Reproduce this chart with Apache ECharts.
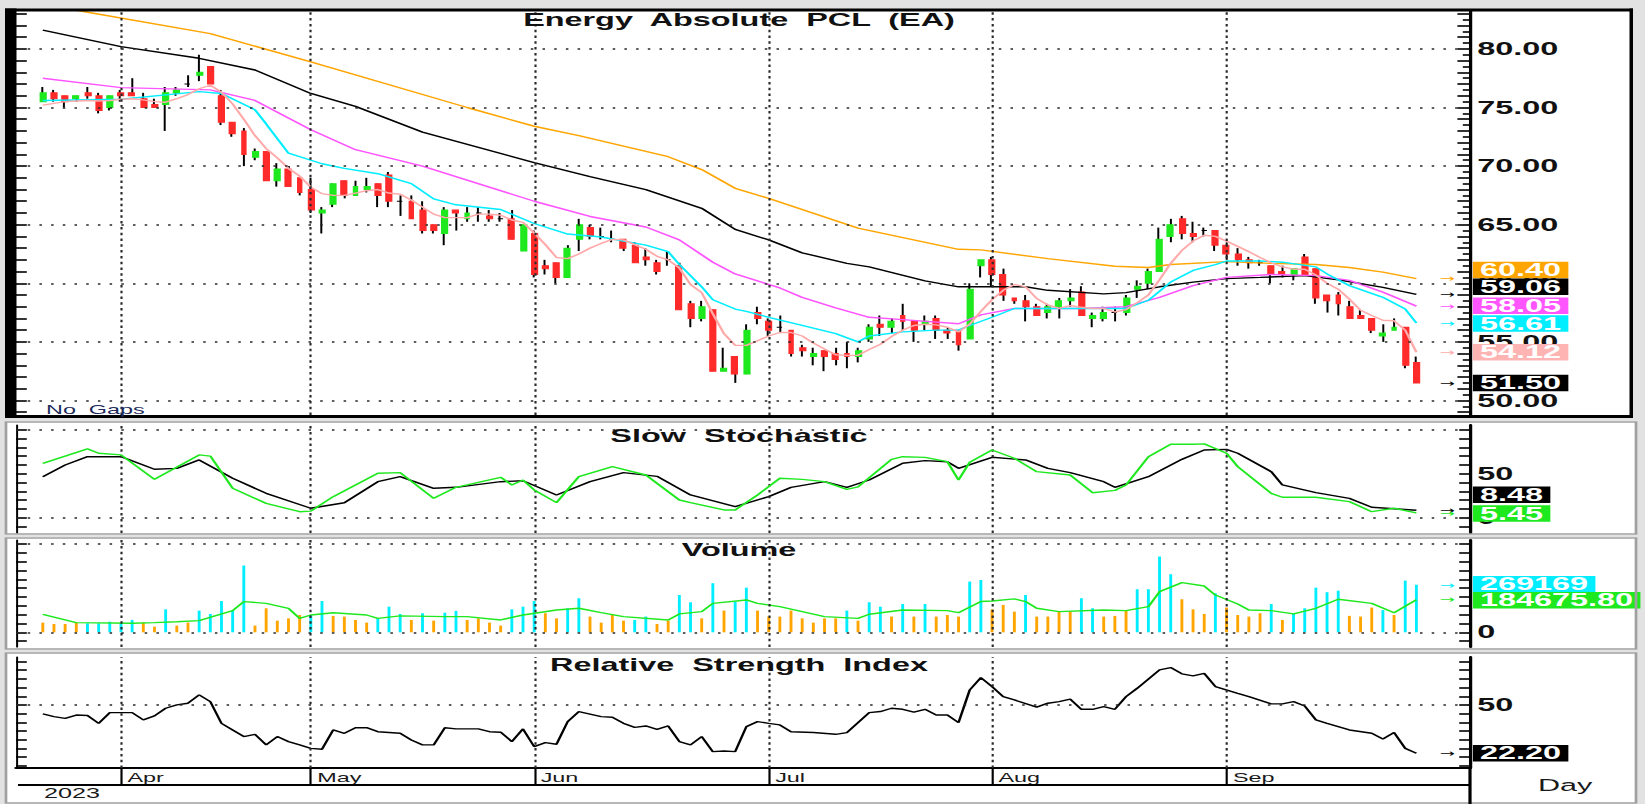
<!DOCTYPE html>
<html>
<head>
<meta charset="utf-8">
<title>Energy Absolute PCL (EA)</title>
<script src="https://cdn.jsdelivr.net/npm/echarts@6/dist/echarts.min.js"></script>
<style>
html, body { margin: 0; padding: 0; overflow: hidden; background: #fff; }
/* the source chart is a screenshot stretched sideways, so draw narrow and stretch */
#chart { width: 914px; height: 804px; transform: scaleX(1.8); transform-origin: 0 0; }
</style>
</head>
<body>
<div id="chart"></div>
<script>
var S = 1.8;
function fx(v) { return v / S; }

var monthStarts = [7, 24, 44, 65, 85, 106];
var monthNames = ['Apr', 'May', 'Jun', 'Jul', 'Aug', 'Sep'];

var opens = [
  75.5, 76.25, 76.0, 75.75, 76.25, 76.0, 75.0, 76.25, 76.25, 75.75,
  75.25, 75.25, 76.25, 77.0, 77.75, 78.5, 76.0, 73.75, 73.0, 70.75,
  71.25, 68.75, 69.75, 69.0, 68.0, 66.0, 66.75, 68.75, 67.5, 68.0,
  68.5, 69.25, 67.0, 67.0, 66.25, 65.0, 64.25, 66.25, 65.5, 66.0,
  65.75, 65.5, 65.5, 62.75, 64.25, 61.5, 61.75, 60.5, 63.75, 64.75,
  64.0, 63.75, 63.75, 63.25, 62.25, 61.75, 62.0, 61.5, 58.25, 57.0,
  57.75, 52.5, 53.75, 52.25, 57.5, 56.75, 56.25, 56.0, 54.5, 53.75,
  54.25, 54.0, 54.0, 53.75, 55.25, 56.5, 56.25, 57.25, 56.75, 56.5,
  57.0, 56.0, 56.0, 55.25, 61.5, 62.0, 60.75, 58.75, 58.5, 58.0,
  57.5, 58.0, 58.5, 59.25, 57.0, 57.0, 57.5, 57.5, 59.5, 60.0,
  61.0, 64.0, 65.5, 64.25, 64.5, 64.5, 63.25, 62.5, 62.0, 61.75,
  61.5, 61.0, 60.75, 62.25, 61.25, 59.0, 59.0, 58.0, 57.25, 57.0,
  55.5, 56.0, 56.25, 53.25
];
var closes = [
  76.25, 75.75, 75.5, 76.0, 76.0, 74.75, 76.0, 76.0, 76.0, 75.0,
  75.0, 76.25, 76.5, 77.0, 78.0, 77.0, 73.75, 72.75, 71.0, 71.25,
  68.75, 69.75, 68.25, 67.75, 66.25, 66.25, 68.5, 67.5, 68.25, 68.25,
  67.5, 67.0, 67.0, 65.5, 64.5, 64.5, 66.25, 66.0, 66.0, 66.0,
  65.5, 65.5, 63.75, 65.0, 60.75, 61.25, 60.5, 63.0, 65.0, 64.0,
  64.0, 63.75, 63.0, 61.75, 62.0, 61.0, 62.0, 57.75, 57.0, 58.0,
  52.5, 52.75, 52.25, 56.0, 57.0, 56.0, 56.25, 54.0, 54.25, 54.0,
  53.75, 53.5, 53.75, 54.25, 56.25, 56.25, 56.75, 56.75, 56.0, 56.75,
  56.0, 55.75, 54.75, 59.5, 62.0, 60.75, 59.0, 58.5, 58.0, 57.25,
  58.0, 58.5, 58.75, 57.25, 57.25, 57.5, 57.5, 58.75, 59.75, 61.0,
  63.75, 65.0, 64.25, 64.0, 64.5, 63.25, 62.5, 62.0, 61.75, 61.75,
  60.75, 60.75, 61.25, 60.75, 58.75, 58.5, 58.25, 57.0, 57.0, 56.0,
  55.75, 56.25, 53.0, 51.5
];
var highs = [
  76.75, 76.5, 76.0, 76.0, 76.75, 76.25, 76.0, 76.5, 77.5, 76.25,
  75.75, 76.75, 76.75, 77.75, 79.5, 78.5, 76.5, 73.75, 73.25, 71.5,
  71.25, 70.25, 70.0, 69.0, 69.0, 66.5, 68.5, 68.75, 68.75, 69.0,
  68.5, 69.5, 67.5, 67.5, 67.0, 65.0, 66.5, 66.25, 66.5, 66.5,
  66.25, 66.0, 66.25, 65.0, 64.5, 62.0, 61.75, 63.25, 65.5, 65.0,
  64.75, 64.5, 63.75, 63.5, 63.0, 62.0, 62.75, 61.75, 58.5, 58.5,
  57.75, 54.5, 53.75, 56.5, 58.0, 57.0, 57.25, 56.0, 54.75, 54.5,
  54.25, 54.5, 55.0, 54.5, 56.5, 57.25, 57.0, 58.25, 56.75, 57.25,
  57.25, 56.25, 56.0, 60.0, 62.0, 62.25, 61.25, 58.75, 59.0, 58.25,
  58.25, 58.75, 59.5, 59.75, 57.5, 58.0, 58.0, 59.0, 60.25, 61.25,
  64.75, 65.5, 65.75, 65.25, 64.75, 64.5, 63.5, 63.0, 62.25, 62.0,
  61.5, 61.5, 61.25, 62.5, 61.25, 59.0, 59.25, 58.5, 57.75, 57.0,
  56.5, 57.0, 56.25, 53.75
];
var lows = [
  75.5, 75.5, 75.0, 75.5, 75.75, 74.5, 74.75, 75.5, 76.0, 75.0,
  75.0, 73.0, 76.0, 76.75, 77.25, 77.0, 73.5, 72.5, 70.0, 70.5,
  68.75, 68.25, 68.25, 67.5, 66.0, 64.25, 66.5, 67.25, 67.5, 67.75,
  66.5, 66.5, 65.75, 65.5, 64.25, 64.25, 63.25, 64.5, 65.25, 65.25,
  65.25, 65.25, 63.75, 62.75, 60.5, 60.75, 60.0, 60.5, 62.75, 63.75,
  63.75, 63.5, 62.75, 61.75, 61.5, 60.75, 61.5, 57.75, 56.25, 56.75,
  52.5, 52.5, 51.5, 52.25, 56.5, 55.5, 55.75, 53.75, 53.75, 53.0,
  52.5, 53.0, 52.75, 53.25, 55.0, 55.5, 55.75, 56.0, 55.0, 56.0,
  55.25, 55.25, 54.25, 55.25, 60.5, 59.75, 58.5, 58.25, 56.75, 57.25,
  57.0, 57.0, 58.0, 57.25, 56.25, 56.75, 56.75, 57.25, 58.75, 59.5,
  61.0, 63.5, 63.75, 63.5, 64.0, 62.75, 62.0, 61.5, 61.25, 61.5,
  60.0, 60.5, 60.25, 60.75, 58.25, 57.5, 57.25, 57.0, 57.0, 55.75,
  55.0, 56.0, 52.75, 51.5
];

// moving averages, as [bar, value]
var maOrange = [[0,84.0],[3,83.3],[15,81.3],[24,78.9],[38,75.0],[44,73.4],[48,72.6],[56,70.8],[59,69.7],[62,68.1],[65,67.25],[73,64.7],[82,62.9],[84,62.85],[90,62.1],[96,61.45],[99,61.35],[101,61.6],[106,61.85],[110,61.7],[114,61.6],[117,61.35],[120,60.95],[123,60.40]];
var maBlack = [[0,81.6],[7,80.2],[14,79.2],[19,78.2],[24,76.2],[28,75.1],[34,72.9],[44,70.3],[49,69.1],[54,68.0],[59,66.4],[62,64.6],[65,63.7],[68,62.6],[72,61.7],[74,61.4],[79,60.2],[82,59.7],[88,59.7],[90,59.4],[95,59.1],[97,59.2],[100,59.7],[103,60.1],[106,60.4],[109,60.5],[113,60.65],[116,60.3],[120,59.65],[123,59.06]];
var maMagenta = [[0,77.5],[7,76.7],[15,76.5],[19,75.6],[24,73.1],[28,71.4],[34,70.0],[44,67.0],[49,65.7],[54,64.8],[57,63.7],[60,61.8],[62,60.8],[64,60.2],[66,59.6],[68,58.8],[71,57.9],[74,57.1],[77,56.9],[82,56.55],[84,57.3],[87,57.85],[93,57.85],[97,58.0],[100,58.8],[103,59.8],[106,60.5],[110,60.75],[114,60.65],[117,60.25],[120,59.25],[123,58.05]];
var maCyan = [[0,75.6],[7,75.7],[14,76.35],[16,76.2],[19,74.8],[20,73.6],[22,71.1],[25,70.2],[27,69.8],[30,69.35],[33,68.5],[35,67.2],[37,66.7],[41,66.3],[44,65.1],[47,64.2],[50,63.95],[54,63.25],[56,62.7],[57,61.6],[59,59.7],[60,58.6],[62,57.8],[63,57.6],[65,57.1],[68,56.4],[71,55.7],[73,55.0],[74,55.5],[77,55.85],[80,56.0],[82,56.0],[83,56.4],[85,57.1],[87,57.85],[97,57.85],[99,58.55],[101,60.1],[103,61.1],[105,61.6],[106,61.9],[109,61.9],[111,61.8],[114,61.4],[115,60.8],[117,59.8],[120,58.8],[122,57.8],[123,56.61]];
var maPink = [
  75.2, 75.35, 75.5, 75.55, 75.6, 75.55, 75.6, 75.7, 75.75, 75.65,
  75.5, 75.45, 75.75, 76.1, 76.6, 76.9, 76.3, 75.3, 74.0, 72.6,
  71.5, 70.7, 69.8, 69.15, 68.2, 67.65, 67.5, 67.5, 67.7, 67.9,
  68.0, 67.7, 67.6, 67.1, 66.5, 65.9, 65.6, 65.6, 65.6, 65.9,
  65.9, 65.8, 65.4, 65.2, 64.3, 63.3, 62.2, 62.1, 62.5, 63.0,
  63.4, 63.75, 63.7, 63.3, 62.9, 62.3, 62.0, 61.3, 59.9, 59.2,
  57.4, 55.7, 54.7, 54.7, 55.1, 55.5, 55.8, 55.8, 55.5, 54.9,
  54.4, 53.9, 53.85, 53.85, 54.35, 54.8, 55.45, 56.0, 56.4, 56.5,
  56.45, 56.25, 55.85, 56.5, 57.6, 58.6, 59.4, 59.9, 59.7, 58.7,
  58.15, 57.85, 58.1, 57.95, 57.85, 57.85, 57.55, 57.75, 58.35, 59.0,
  60.3, 61.7, 62.8, 63.6, 64.1, 64.0, 63.6, 63.15, 62.7, 62.2,
  61.75, 61.4, 61.2, 61.2, 60.7, 60.0, 59.5, 58.65, 57.7, 57.25,
  56.85, 56.8, 56.0, 54.12
];

var stochK = [[0,61.8],[4,78.1],[5,73.2],[7,71.3],[10,43.6],[14,71.3],[15,70],[17,33.4],[20,16.3],[23,6.8],[24,7.5],[26,23.9],[30,50.4],[32,51.2],[35,22.0],[37,34.5],[41,45.9],[42,37.2],[43,42.8],[44,31.5],[46,17.1],[48,46.6],[51,58.0],[54,48.5],[57,20.1],[58,17],[61,8.8],[62,8.8],[64,25.8],[66,44.8],[68,43.5],[70,40.9],[72,32.2],[73,35],[76,66.3],[77,69.3],[79,68.5],[81,63.6],[82,42.8],[83,63],[85,76.9],[87,67.5],[89,52.3],[92,48.5],[94,28.4],[96,31],[97,37.2],[99,69.3],[101,83.4],[103,83.4],[104,83.8],[106,73.2],[107,58],[110,27.6],[111,23.2],[114,23.2],[117,18.2],[119,6.8],[121,10.7],[123,5.45]];
var stochD = [[0,46.6],[2,59.9],[4,69.3],[7,69.3],[10,55],[12,56],[14,65.6],[17,44.8],[20,27.7],[24,10.7],[27,17],[30,40.9],[32,46.6],[35,33.4],[37,34.5],[41,40.9],[43,42],[46,25.8],[49,40.9],[52,51.2],[55,47],[58,25.8],[62,12.5],[65,23.9],[67,34.5],[70,40.9],[72,34.5],[74,42.8],[77,61.8],[79,64.8],[81,63.6],[82,56.1],[85,68.6],[88,65.6],[90,56.1],[92,51.2],[95,40.9],[96,34.5],[99,46.6],[102,66.3],[104,76.9],[106,77.6],[107,73.2],[110,52.3],[111,37.2],[114,28.4],[117,22],[119,11.8],[123,8.48]];

var volumes = [
  54800, 47000, 47000, 55000, 51000, 51000, 60000, 51000, 70000, 55000,
  32000, 130000, 38000, 55000, 123000, 104000, 177000, 123000, 378000, 38000,
  136000, 66000, 79000, 98000, 98000, 177000, 93000, 89000, 70000, 55000,
  79000, 145000, 104000, 70000, 108000, 66000, 111000, 121000, 70000, 79000,
  55000, 38000, 130000, 145000, 177000, 108000, 79000, 136000, 193000, 89000,
  55000, 98000, 66000, 70000, 89000, 47000, 66000, 211000, 170000, 79000,
  278000, 123000, 174000, 253000, 123000, 89000, 89000, 123000, 79000, 55000,
  79000, 79000, 123000, 66000, 170000, 145000, 89000, 160000, 89000, 160000,
  89000, 98000, 89000, 287000, 296000, 130000, 155000, 117000, 211000, 89000,
  89000, 117000, 117000, 193000, 136000, 89000, 93000, 123000, 244000, 244000,
  429000, 329000, 187000, 130000, 104000, 221000, 140000, 98000, 89000, 108000,
  160000, 70000, 108000, 136000, 253000, 227000, 236000, 93000, 89000, 140000,
  126000, 98000, 293000, 269169
];
// c = cyan bar, o = orange bar, ten bars per chunk
var volTone = [
  'ooooccccco', 'ocooccccco', 'ooooccoooo', 'cccococcoo',
  'oocccoocco', 'oooccoocco', 'coccoooooo', 'oococcococ',
  'oooccoooco', 'oooccooocc', 'ccooocoooo', 'cocccccooo',
  'cocc'
].join('').split('');
var volMA = [[0,102000],[3,55000],[8,51000],[10,55000],[12,60000],[14,66000],[17,123000],[18,174000],[20,164000],[22,136000],[23,79000],[24,98000],[26,111000],[29,98000],[30,79000],[32,93000],[36,89000],[38,89000],[41,70000],[43,98000],[46,126000],[48,136000],[50,111000],[52,89000],[56,70000],[57,104000],[59,117000],[60,164000],[63,183000],[64,164000],[66,145000],[68,117000],[70,89000],[73,79000],[74,102000],[77,126000],[81,123000],[82,111000],[84,174000],[85,177000],[87,189000],[88,174000],[89,136000],[91,117000],[95,126000],[97,123000],[99,145000],[100,230000],[102,281000],[104,262000],[105,211000],[107,160000],[108,126000],[110,123000],[112,104000],[114,136000],[116,187000],[119,164000],[121,111000],[123,184675.8]];

var rsi = [[0,44.8],[1,43.3],[2,42.3],[3,44.2],[4,43.9],[5,39.4],[6,45.6],[8,45.6],[9,41.4],[10,43.7],[11,48.1],[12,50],[13,51],[14,55.8],[15,51.9],[16,39.4],[17,35.6],[18,31.8],[19,33.1],[20,27],[21,31.8],[22,28.9],[23,27],[24,25],[25,24.5],[26,35.6],[27,33.7],[28,36.9],[29,36.9],[30,34.6],[32,33.7],[33,29.8],[34,27],[35,27],[36,36.9],[37,36.2],[39,36.2],[40,34.6],[41,34.3],[42,28.9],[43,36.2],[44,26],[45,28.3],[46,27.4],[47,40.4],[48,46.2],[50,43.3],[51,42.9],[52,39.4],[53,37.1],[54,37.9],[55,36],[56,37.9],[57,28.9],[58,27],[59,31.8],[60,23.1],[61,23.5],[62,23.1],[63,37.5],[64,40.4],[65,39.4],[66,38.5],[67,34.6],[69,34.1],[71,33.1],[72,34.1],[74,45.6],[75,46.2],[76,48.1],[77,47.5],[78,45.8],[79,47.5],[80,44.2],[81,44.2],[82,39.8],[83,58.6],[84,65.7],[85,60.6],[86,54.8],[87,52.9],[89,48.7],[90,51],[91,51.9],[92,53.3],[93,47.5],[94,47.5],[95,49],[96,47.5],[97,54.8],[98,59.6],[100,70.2],[101,71.5],[102,67.9],[103,66.7],[104,68.2],[105,60.6],[107,56.7],[108,54.8],[110,50.6],[111,50.6],[112,51.9],[113,49.4],[114,41.4],[115,39.4],[117,35.6],[119,33.7],[120,30.4],[121,34.1],[122,25],[123,22.2]];

var FONT = 'Liberation Sans, Arial, sans-serif';
var GREEN = '#1ee81e', RED = '#ff2a2a', ORANGE = '#ffa500', CYAN = '#00eeff', MAGENTA = '#ff55ff', PINK = '#ffaaaa';
var last = opens.length - 1;

function range(a, b, step) {
  var r = [];
  for (var v = a; v <= b + 1e-9; v += step) r.push(+v.toFixed(4));
  return r;
}

// plot area in canvas px; the right axis sits at 1470 px of the stretched page
var axisX = fx(1470), plotL = fx(16), W = 914;
var xMin = -2.4, xMax = 127.8;
var barPx = fx(11.17);                 // canvas px per bar
var arrowAt = last + 13 / barPx;       // arrows sit a little right of the last bar
var tagAt = xMax - 0.1;                // tags hang off the right edge of the plot
var tagShift = 0.1 * barPx + 1.6;

var grids = [
  { left: plotL, right: W - axisX, top: 10, height: 405 },
  { left: plotL, right: W - axisX, top: 425, height: 108 },
  { left: plotL, right: W - axisX, top: 540, height: 107 },
  { left: plotL, right: W - axisX, top: 657, height: 111 }
];
grids.forEach(function (g) { g.outerBoundsMode = 'none'; });

function yBase(gi, pos, min, max) {
  return {
    type: 'value', gridIndex: gi, position: pos, min: min, max: max,
    splitLine: { show: false },
    axisLine: { show: true, onZero: false, lineStyle: { color: '#000', width: 1.8 } },
    axisTick: { show: false },
    axisLabel: { show: false }
  };
}
function ticks(vals, len, width) {
  return { show: true, inside: true, length: len, customValues: vals, lineStyle: { color: '#000', width: width || 1.6 } };
}
function labels(vals, fmt) {
  return { show: true, customValues: vals, formatter: fmt, margin: 4, color: '#111', fontFamily: FONT, fontWeight: 'bold', fontSize: 18 };
}

var priceR = [48.76, 83.32], stochR = [-17.4, 105.3], volR = [-83200, 522600], rsiR = [13.7, 77.6];
var yAxes = [];
var a;
// price panel: 0 right, 1 half ticks, 2 left
a = yBase(0, 'right', priceR[0], priceR[1]);
a.axisTick = ticks(range(49, 83, 1), 7); a.axisLabel = labels(range(50, 80, 5), function (v) { return v.toFixed(2); });
yAxes.push(a);
a = yBase(0, 'right', priceR[0], priceR[1]); a.axisLine.show = false; a.axisTick = ticks(range(49.5, 82.5, 1), 4);
yAxes.push(a);
a = yBase(0, 'left', priceR[0], priceR[1]); a.axisLine.show = false; a.axisTick = ticks(range(49, 83, 1), 6);
yAxes.push(a);
// stochastic: 3 right, 4 left
a = yBase(1, 'right', stochR[0], stochR[1]);
a.axisTick = ticks(range(-10, 100, 10), 6); a.axisLabel = labels([0, 50], function (v) { return String(v); });
yAxes.push(a);
a = yBase(1, 'left', stochR[0], stochR[1]); a.axisLine.lineStyle.width = 1.1; a.axisTick = ticks(range(-10, 100, 10), 6);
yAxes.push(a);
// volume: 5 right, 6 left
a = yBase(2, 'right', volR[0], volR[1]);
a.axisTick = ticks(range(-50000, 500000, 50000), 6); a.axisLabel = labels([0], function () { return '0'; });
yAxes.push(a);
a = yBase(2, 'left', volR[0], volR[1]); a.axisLine.lineStyle.width = 1.1; a.axisTick = ticks(range(-50000, 500000, 50000), 6);
yAxes.push(a);
// rsi: 7 right, 8 left
a = yBase(3, 'right', rsiR[0], rsiR[1]);
a.axisTick = ticks(range(15, 75, 5), 6); a.axisLabel = labels([50], function (v) { return String(v); });
yAxes.push(a);
a = yBase(3, 'left', rsiR[0], rsiR[1]); a.axisLine.lineStyle.width = 1.1; a.axisTick = ticks(range(15, 75, 5), 6);
yAxes.push(a);

var xAxes = [0, 1, 2].map(function (gi) {
  return { type: 'value', gridIndex: gi, min: xMin, max: xMax, show: false };
});
xAxes.push({
  type: 'value', gridIndex: 3, min: xMin, max: xMax, position: 'bottom',
  splitLine: { show: false },
  axisLine: { show: true, onZero: false, lineStyle: { color: '#000', width: 2 } },
  axisTick: { show: true, inside: false, length: 17, customValues: monthStarts, lineStyle: { color: '#000', width: 1.2 } },
  axisLabel: {
    show: true, customValues: monthStarts, margin: 3, align: 'left', padding: [0, 0, 0, 3.6],
    formatter: function (v) { return monthNames[monthStarts.indexOf(v)]; },
    fontFamily: FONT, fontSize: 13, color: '#1a1a1a'
  }
});

function guides(gi, yi, hVals) {
  var d = hVals.map(function (v) { return { yAxis: v }; });
  monthStarts.forEach(function (m) { d.push({ xAxis: m, lineStyle: { type: [2.5, 3.3], width: 1.2 } }); });
  return {
    type: 'line', xAxisIndex: gi, yAxisIndex: yi, data: [], silent: true, z: 1,
    markLine: {
      silent: true, symbol: ['none', 'none'], animation: false, label: { show: false },
      lineStyle: { color: '#2a2a2a', width: 1.6, type: [1.4, 5.1] },
      emphasis: { disabled: true }, data: d
    }
  };
}

// arrow + value tag at the right end of a series
function tag(v, text, bg, fg, arrow, dy) {
  return {
    symbol: 'circle', symbolSize: 0, silent: true, animation: false,
    data: [
      { coord: [arrowAt, v], label: { show: true, position: 'right', distance: 0, formatter: '\u2192', color: arrow, fontFamily: 'DejaVu Sans', fontSize: 10, lineHeight: 10 } },
      { coord: [tagAt, v], label: { show: true, position: 'right', distance: 0, offset: [tagShift, dy || 0], formatter: text, color: fg, backgroundColor: bg, padding: [0, 4], lineHeight: 16.5, fontFamily: FONT, fontWeight: 'bold', fontSize: 18 } }
    ]
  };
}

function line(gi, yi, data, color, z, mark) {
  return { type: 'line', xAxisIndex: gi, yAxisIndex: yi, data: data, showSymbol: false, symbol: 'none', silent: true, z: z || 4,
    lineStyle: { color: color, width: 1.4 }, markPoint: mark };
}

var wickData = opens.map(function (o, k) { return [k, o, closes[k], lows[k], highs[k]]; });
var bodyData = opens.map(function (o, k) { return [k, o, closes[k], Math.min(o, closes[k]), Math.max(o, closes[k])]; });
var pinkData = maPink.map(function (v, k) { return [k, v]; });
var volData = volumes.map(function (v, k) {
  return { value: [k, v], itemStyle: { color: volTone[k] === 'c' ? CYAN : ORANGE } };
});

var series = [
  guides(0, 0, range(50, 80, 5)),
  { type: 'candlestick', name: 'wick', xAxisIndex: 0, yAxisIndex: 0, data: wickData, encode: { x: 0, y: [1, 2, 3, 4] },
    barWidth: 0.6, z: 2, silent: true,
    itemStyle: { color: '#000', color0: '#000', borderColor: '#000', borderColor0: '#000', borderColorDoji: '#000', borderWidth: 1.1 } },
  { type: 'candlestick', name: 'body', xAxisIndex: 0, yAxisIndex: 0, data: bodyData, encode: { x: 0, y: [1, 2, 3, 4] },
    barWidth: 3.4, z: 3, silent: true,
    itemStyle: { color: GREEN, color0: RED, borderColor: GREEN, borderColor0: RED, borderColorDoji: '#000', borderWidth: 1 },
    markPoint: tag(closes[last], closes[last].toFixed(2), '#000', '#fff', '#000', 0) },
  line(0, 0, maOrange, ORANGE, 4, tag(maOrange[maOrange.length - 1][1], '60.40', ORANGE, '#fff', ORANGE, -8.5)),
  line(0, 0, maBlack, '#000', 4, tag(maBlack[maBlack.length - 1][1], '59.06', '#000', '#fff', '#000', -7.5)),
  line(0, 0, maMagenta, MAGENTA, 4, tag(maMagenta[maMagenta.length - 1][1], '58.05', MAGENTA, '#fff', MAGENTA, -0.5)),
  line(0, 0, maCyan, CYAN, 4, tag(maCyan[maCyan.length - 1][1], '56.61', CYAN, '#fff', CYAN, 0.5)),
  line(0, 0, pinkData, PINK, 4, tag(maPink[last], '54.12', '#ffb4b4', '#fff', PINK, 0)),

  guides(1, 3, [0, 100]),
  line(1, 3, stochD, '#000', 4, tag(8.48, '8.48', '#000', '#fff', '#000', -15.5)),
  line(1, 3, stochK, GREEN, 5, tag(5.45, '5.45', GREEN, '#fff', GREEN, 0.5)),

  guides(2, 5, [0, 500000]),
  { type: 'bar', xAxisIndex: 2, yAxisIndex: 5, data: volData, barWidth: 1.6, silent: true, z: 3,
    markPoint: tag(volumes[last], String(volumes[last]), CYAN, '#fff', CYAN, -0.5) },
  line(2, 5, volMA, GREEN, 4, tag(184675.8, '184675.80', GREEN, '#fff', GREEN, 0.5)),

  guides(3, 7, [50]),
  line(3, 7, rsi, '#000', 4, tag(22.2, '22.20', '#000', '#fff', '#000', 0))
];

function rect(x1, y1, x2, y2, fill, z) {
  return { type: 'rect', silent: true, z: z, shape: { x: fx(x1), y: y1, width: fx(x2 - x1), height: y2 - y1 }, style: { fill: fill } };
}
function frame(x1, y1, x2, y2, stroke, lw) {
  return { type: 'rect', silent: true, z: 10, shape: { x: fx(x1), y: y1, width: fx(x2 - x1), height: y2 - y1 }, style: { fill: 'none', stroke: stroke, lineWidth: lw } };
}
function text(str, x, y, size, weight, align, color) {
  return { type: 'text', silent: true, z: 20, x: fx(x), y: y,
    style: { text: str, x: 0, y: 0, font: weight + ' ' + size + 'px ' + FONT, fill: color || '#111',
      textAlign: align, textVerticalAlign: 'middle', align: align, verticalAlign: 'middle' } };
}

var graphics = [
  rect(5, 9, 1633, 418, '#fff', -10),
  rect(5, 421, 1637, 535, '#fff', -10),
  rect(5, 537, 1637, 650, '#fff', -10),
  rect(5, 652, 1637, 804, '#fff', -10),
  rect(5, 8.5, 1633, 11.5, '#000', 10),
  rect(5, 415, 1633, 418, '#000', 10),
  rect(1629.5, 8.5, 1633, 418, '#000', 10),
  rect(5, 8.5, 16.5, 418, '#000', 10),
  frame(6, 422, 1636, 534, '#a0a0a0', 1.5),
  frame(6, 538, 1636, 649, '#a0a0a0', 1.5),
  frame(6, 653, 1636, 803, '#a0a0a0', 1.5),
  rect(18, 784, 1470, 786, '#000', 10),
  rect(1468.4, 768, 1471.6, 804, '#000', 10),
  text('Energy  Absolute  PCL  (EA)', 739, 20, 18, 'bold', 'center'),
  text('Slow  Stochastic', 739, 436, 18, 'bold', 'center'),
  text('Volume', 739, 550, 18, 'bold', 'center'),
  text('Relative  Strength  Index', 739, 665, 18, 'bold', 'center'),
  text('No  Gaps', 46, 410, 13, 'normal', 'left', '#1c2a5a'),
  text('2023', 44, 793, 14, 'normal', 'left', '#1a1a1a'),
  text('Day', 1538, 785, 17, 'normal', 'left', '#1a1a1a')
];

var chart = echarts.init(document.getElementById('chart'), null, { renderer: 'svg', width: 914, height: 804 });
chart.setOption({
  animation: false,
  backgroundColor: '#e2e2e2',
  grid: grids,
  xAxis: xAxes,
  yAxis: yAxes,
  series: series,
  graphic: graphics
});
</script>
</body>
</html>
